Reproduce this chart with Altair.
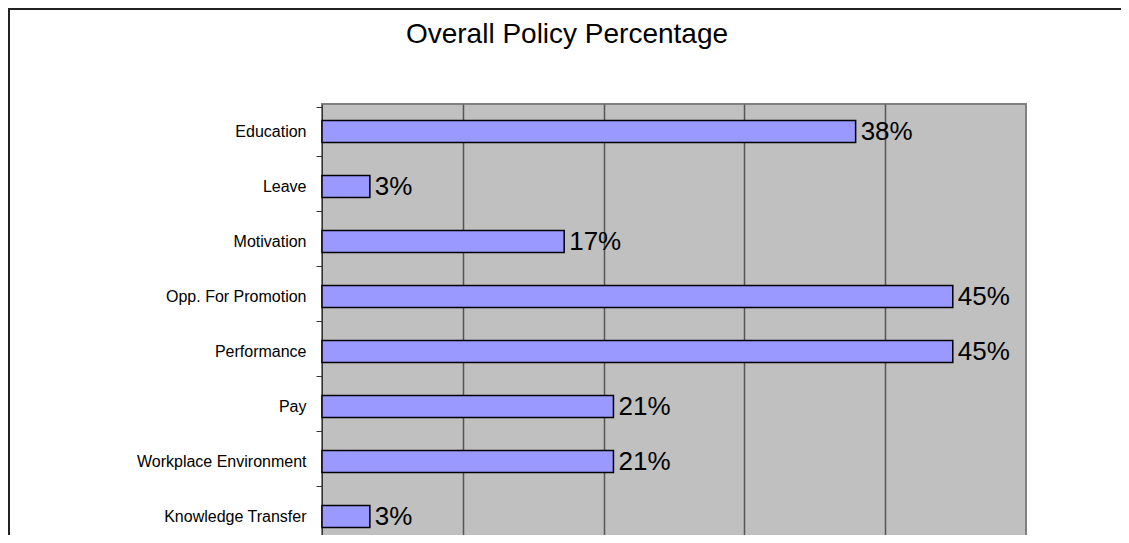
import altair as alt
import pandas as pd

title_text = "Overall Policy Percentage"
categories = ["Education", "Leave", "Motivation", "Opp. For Promotion",
              "Performance", "Pay", "Workplace Environment", "Knowledge Transfer"]
percent_values = [37.9, 3.4, 17.2, 44.8, 44.8, 20.7, 20.7, 3.4]
percent_labels = ["38%", "3%", "17%", "45%", "45%", "21%", "21%", "3%"]
grid_values = [10, 20, 30, 40]

df = pd.DataFrame({"category": categories, "value": percent_values, "label": percent_labels})

FONT = "Liberation Sans"

y_enc = alt.Y("category:N", sort=categories, title=None,
              axis=alt.Axis(tickBand="extent", tickSize=6, labelPadding=10,
                            labelFontSize=16, labelFont=FONT, labelColor="black",
                            domainColor="#333333", tickColor="#333333", grid=False))

x_enc = alt.X("value:Q", title=None,
              scale=alt.Scale(domain=[0, 50], nice=False),
              axis=alt.Axis(labels=False, ticks=False, domain=False, grid=True,
                            values=grid_values, gridColor="#555555", gridWidth=1.5))

one = pd.DataFrame({"k": [0]})
frame_left = alt.Chart(one).mark_rule(stroke="#222222", strokeWidth=2).encode(
    x=alt.value(-313), y=alt.value(-96), y2=alt.value(600))
frame_top = alt.Chart(one).mark_rule(stroke="#222222", strokeWidth=2).encode(
    x=alt.value(-314), x2=alt.value(799), y=alt.value(-95))

title_mark = alt.Chart(one).mark_text(align="center", baseline="alphabetic", fontSize=28,
                                      font=FONT, color="black").encode(
    x=alt.value(245), y=alt.value(-61), text=alt.value(title_text))

bars = alt.Chart(df).mark_bar(size=22, fill="#9999ff", stroke="black", strokeWidth=1.5).encode(
    y=y_enc, x=x_enc
)

texts = alt.Chart(df).mark_text(align="left", baseline="middle", dx=5, fontSize=26,
                                font=FONT, color="black").encode(
    y=alt.Y("category:N", sort=categories), x=alt.X("value:Q"), text="label:N"
)

chart = alt.layer(frame_left, frame_top, title_mark, bars, texts).properties(
    width=704, height=440,
    padding={"left": 314, "top": 96, "right": 95, "bottom": -9},
    autosize=alt.AutoSizeParams(type="none"),
).configure_view(fill="#c0c0c0", stroke="#808080", strokeWidth=2)

chart.save("out.html", embed_options={"renderer": "svg", "actions": False})
